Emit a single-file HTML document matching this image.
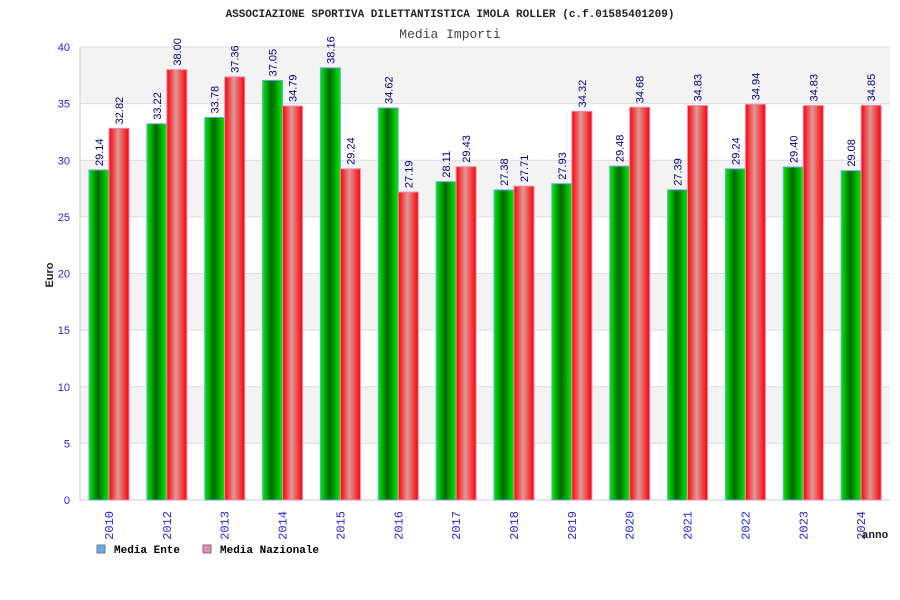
<!DOCTYPE html>
<html><head><meta charset="utf-8"><style>
body{margin:0;background:#fff}
svg{display:block}
</style></head><body>
<svg id="chart" width="900" height="600" xmlns="http://www.w3.org/2000/svg">
<defs>
<linearGradient id="gG" x1="0" x2="1" y1="0" y2="0">
<stop offset="0" stop-color="#00ee00"/><stop offset="0.45" stop-color="#006600"/><stop offset="1" stop-color="#00ee00"/>
</linearGradient>
<linearGradient id="gR" x1="0" x2="1" y1="0" y2="0">
<stop offset="0" stop-color="#ff0000"/><stop offset="0.45" stop-color="#dd9999"/><stop offset="1" stop-color="#ff0000"/>
</linearGradient>
</defs>
<text x="450" y="17" text-anchor="middle" font-family="Liberation Mono, monospace" font-weight="bold" font-size="11" fill="#222">ASSOCIAZIONE SPORTIVA DILETTANTISTICA IMOLA ROLLER (c.f.01585401209)</text>
<text x="450" y="38" text-anchor="middle" font-family="Liberation Mono, monospace" font-size="13" fill="#444">Media Importi</text>
<g id="bands"></g><g id="grid"></g><g id="bars"></g><g id="labels"></g>
<text transform="translate(53,275) rotate(-90)" text-anchor="middle" font-family="Liberation Sans, sans-serif" font-weight="bold" font-size="11" fill="#222">Euro</text>
<text x="875" y="538" text-anchor="middle" font-family="Liberation Mono, monospace" font-weight="bold" font-size="11" fill="#222">anno</text>
<g>
<rect x="97" y="545" width="8" height="8" fill="#66aaee" stroke="#777"/>
<text x="114" y="553" font-family="Liberation Mono, monospace" font-weight="bold" font-size="11" fill="#000">Media Ente</text>
<rect x="203" y="545" width="8" height="8" fill="#ee88bb" stroke="#777"/>
<text x="220" y="553" font-family="Liberation Mono, monospace" font-weight="bold" font-size="11" fill="#000">Media Nazionale</text>
</g>
</svg>
<script>
const categories=["2010","2012","2013","2014","2015","2016","2017","2018","2019","2020","2021","2022","2023","2024"];
const enteValues=[29.14,33.22,33.78,37.05,38.16,34.62,28.11,27.38,27.93,29.48,27.39,29.24,29.40,29.08];
const nazionaleValues=[32.82,38.00,37.36,34.79,29.24,27.19,29.43,27.71,34.32,34.68,34.83,34.94,34.83,34.85];
const yTicks=[0,5,10,15,20,25,30,35,40];
const NS="http://www.w3.org/2000/svg";
const L=80,R=890,T=47,B=500,yMax=40;
const y=v=>B-(v/yMax)*(B-T);
const gw=(R-L)/categories.length;
const x=i=>L+i*gw;
function mk(tag,attrs,parent,text){const e=document.createElementNS(NS,tag);for(const k in attrs)e.setAttribute(k,attrs[k]);if(text!==undefined)e.textContent=text;document.getElementById(parent).appendChild(e);return e;}
const bands=document.getElementById('bands');
for(let i=0;i<yTicks.length-1;i++){
  const b=mk('rect',{x:L,y:y(yTicks[i+1]),width:R-L,height:y(yTicks[i])-y(yTicks[i+1]),fill:(i%2==1)?'#f3f3f3':'#ffffff'},'bands');
  
  
}
yTicks.forEach(t=>{
  const g=mk('line',{x1:L,x2:R,y1:y(t),y2:y(t),stroke:'#dddddd','stroke-width':1},'grid');
  
  
  const tl=mk('text',{x:70,y:y(t)+4,'text-anchor':'end','font-family':'Liberation Sans, sans-serif','font-size':'11',fill:'#2222ee'},'labels',String(t));
  
  
});
const ax=mk('line',{x1:L,x2:L,y1:T,y2:B,stroke:'#cccccc'},'grid');


const bx=mk('line',{x1:L,x2:R,y1:B,y2:B,stroke:'#cccccc'},'grid');


categories.forEach((c,i)=>{
  const gx=x(i)+9;
  const v1=enteValues[i],v2=nazionaleValues[i];
  const r1=mk('rect',{x:gx,y:y(v1),width:20,height:B-y(v1),fill:'url(#gG)',stroke:'#66aaee','stroke-width':1},'bars');
  
  
  const r2=mk('rect',{x:gx+20,y:y(v2),width:20,height:B-y(v2),fill:'url(#gR)',stroke:'#ee88bb','stroke-width':1},'bars');
  
  
  const t1=mk('text',{transform:`translate(${gx+14},${y(v1)-4}) rotate(-90)`,'font-family':'Liberation Sans, sans-serif','font-size':'11',fill:'#000088'},'labels',v1.toFixed(2));
  
  
  const t2=mk('text',{transform:`translate(${gx+34},${y(v2)-4}) rotate(-90)`,'font-family':'Liberation Sans, sans-serif','font-size':'11',fill:'#000088'},'labels',v2.toFixed(2));
  
  
  const xl=mk('text',{transform:`translate(${gx+24},${511}) rotate(-90)`,'text-anchor':'end','font-family':'Liberation Mono, monospace','font-size':'12',fill:'#2222ee'},'labels',c);
  
  
});
</script>
</body></html>
